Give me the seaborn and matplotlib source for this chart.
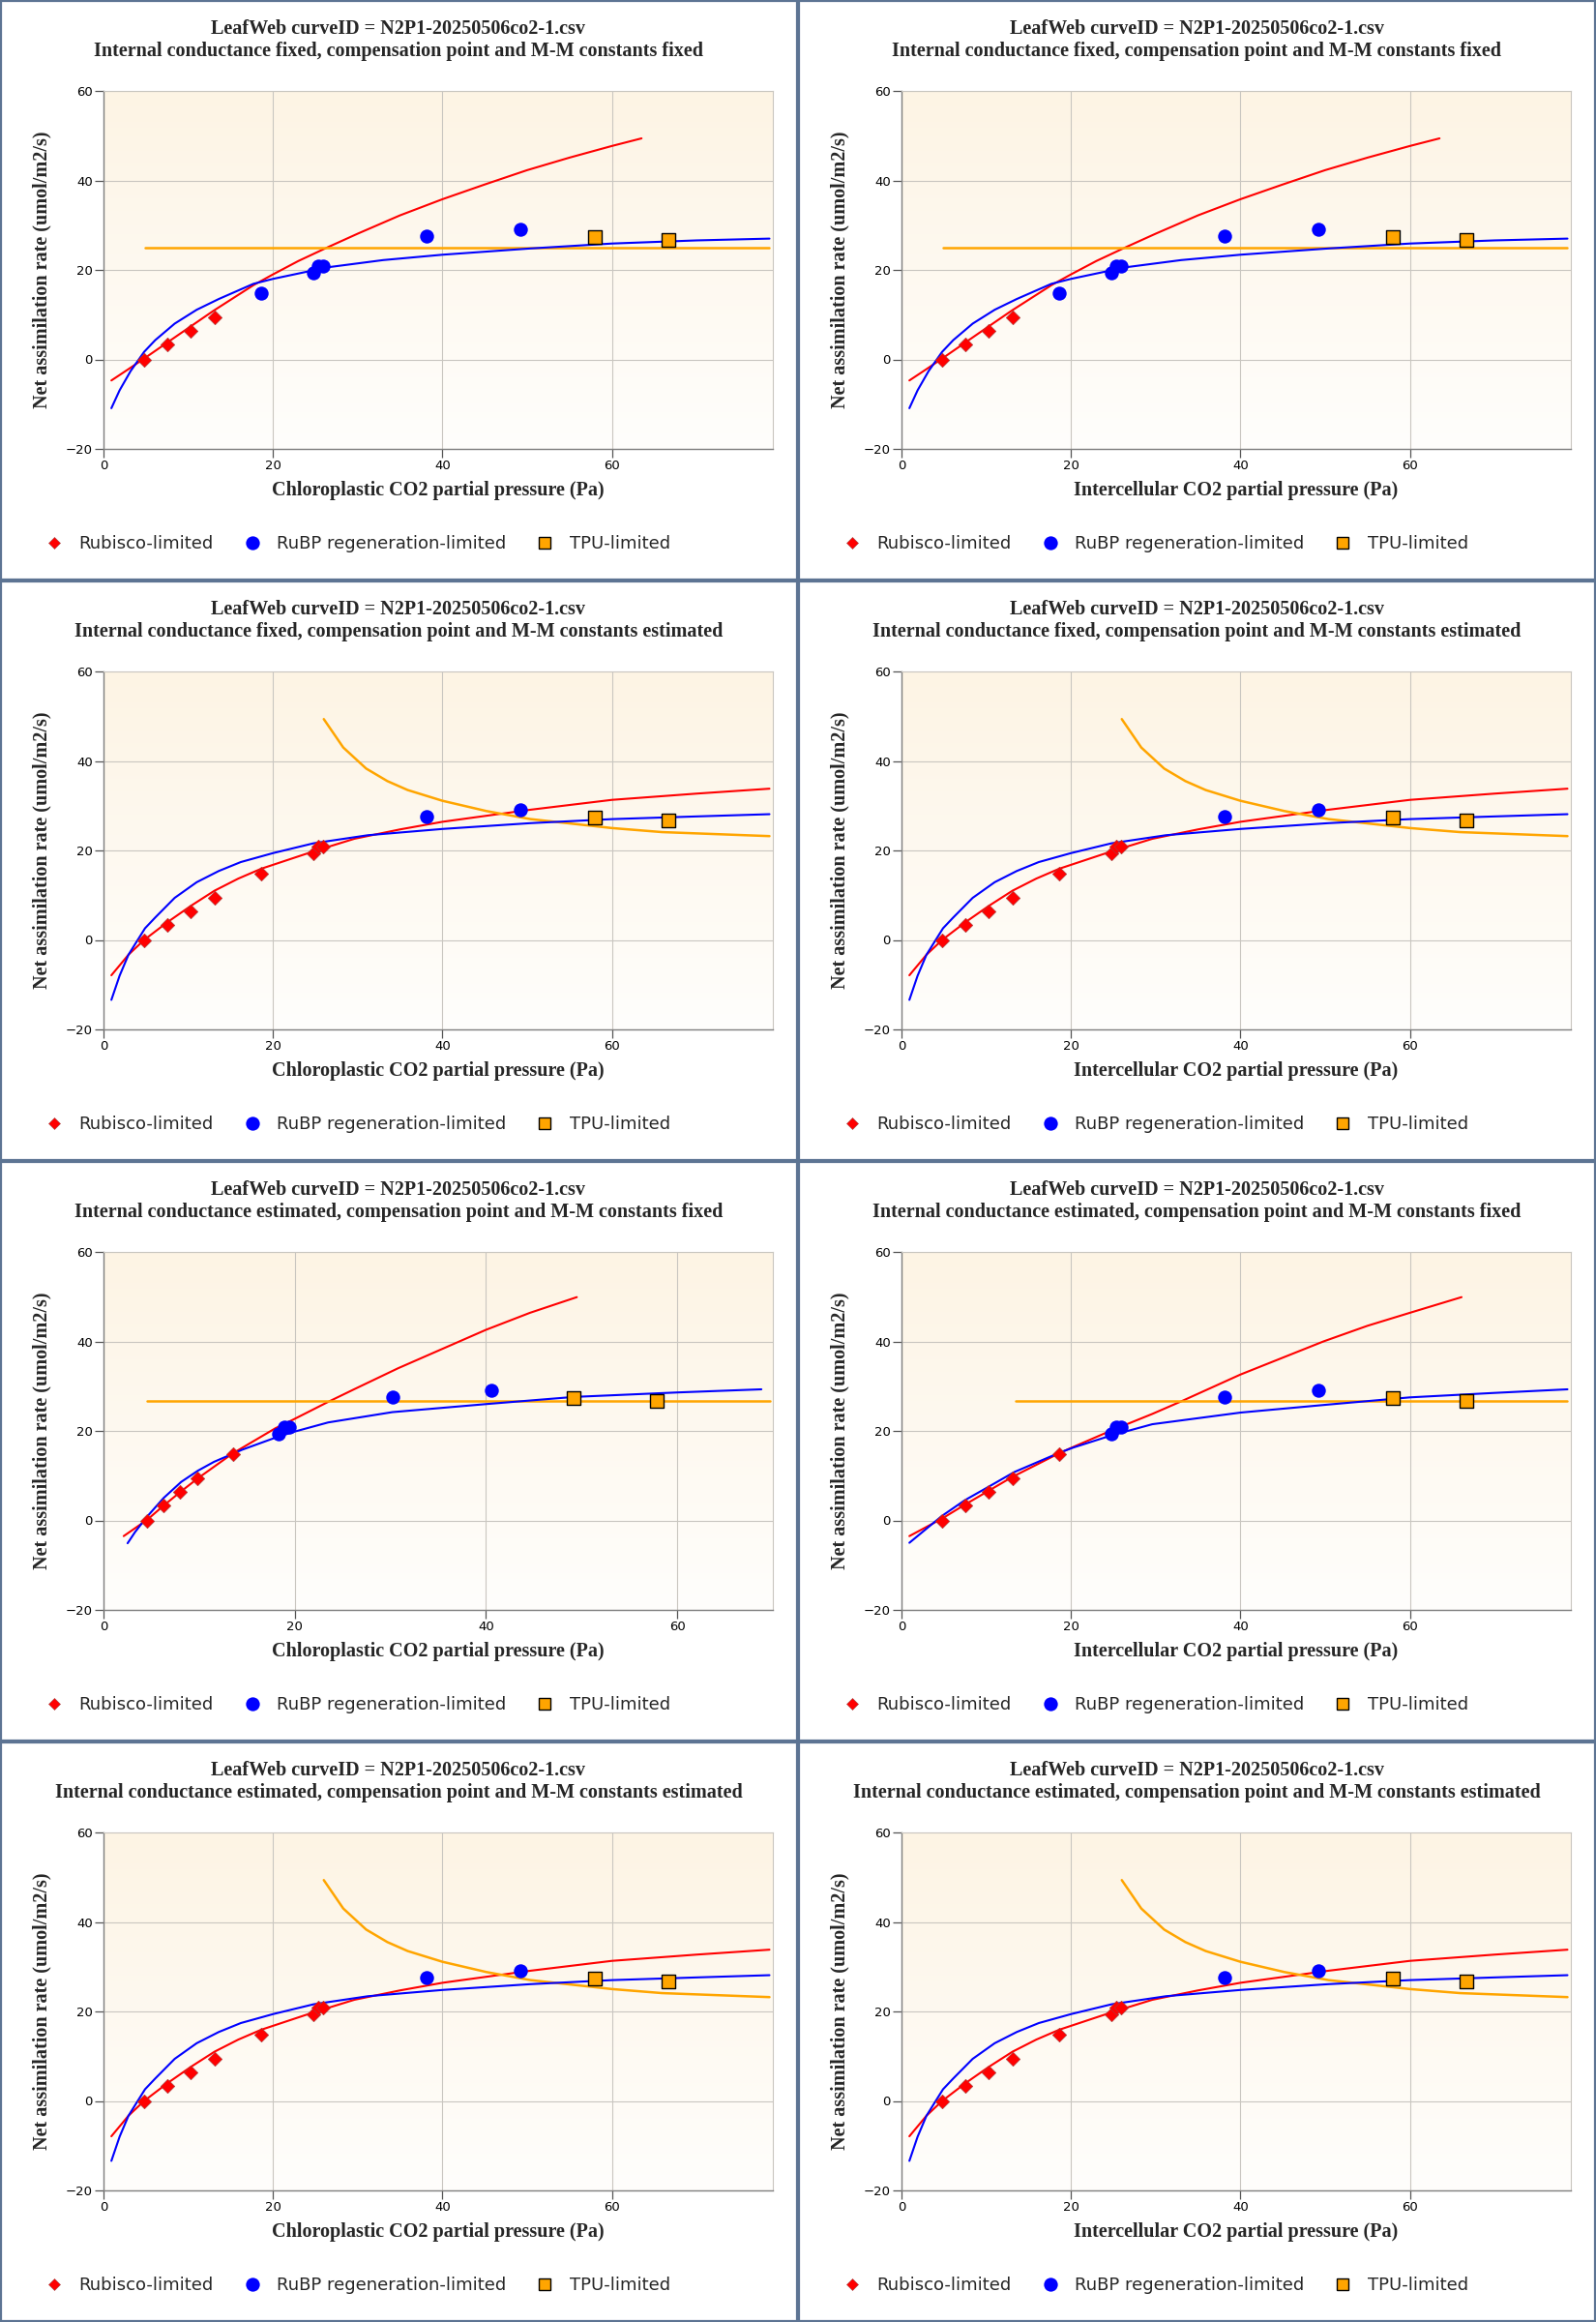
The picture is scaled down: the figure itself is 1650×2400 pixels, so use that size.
import matplotlib
matplotlib.use("Agg")
import matplotlib.pyplot as plt
from matplotlib.lines import Line2D
from matplotlib.patches import Rectangle
import seaborn as sns
import numpy as np
import pandas as pd

# observed points (Ci) and net assimilation
ci_obs = [4.8, 7.5, 10.3, 13.1, 18.6, 24.8, 25.4, 25.9, 38.1, 49.2, 58.0, 66.7]
a_obs = [0.0, 3.3, 6.4, 9.3, 14.9, 19.3, 20.8, 20.8, 27.5, 29.0, 27.3, 26.7]
# chloroplastic CO2 when internal conductance is estimated
cc_obs = [4.54, 6.28, 8.03, 9.86, 13.53, 18.35, 18.9, 19.45, 30.2, 40.55, 49.2, 57.9]

# limitation assigned to each point, per fit
lim_A = ["Rubisco"] * 4 + ["RuBP"] * 6 + ["TPU"] * 2
lim_B = ["Rubisco"] * 8 + ["RuBP"] * 2 + ["TPU"] * 2
lim_C = ["Rubisco"] * 5 + ["RuBP"] * 5 + ["TPU"] * 2

# fitted curves, fit A (gm fixed, constants fixed)
A_red_x = [0.93, 3.0, 4.8, 9.0, 13.0, 17.7, 20.0, 23.0, 26.5, 30.0, 35.0, 40.0, 45.0, 50.0, 55.0, 60.0, 63.5]
A_red_y = [-4.7, -2.1, 0.2, 5.7, 10.9, 16.6, 19.0, 22.0, 25.1, 28.1, 32.2, 35.8, 39.1, 42.3, 45.1, 47.7, 49.4]
A_blue_x = [0.93, 1.9, 3.2, 4.8, 6.1, 8.4, 11.0, 13.6, 17.7, 20.0, 26.5, 33.0, 40.0, 50.4, 60.0, 70.0, 78.6]
A_blue_y = [-10.9, -6.9, -2.6, 1.7, 4.3, 8.0, 11.1, 13.5, 16.9, 18.0, 20.6, 22.2, 23.4, 24.8, 25.9, 26.6, 27.0]
A_tpu_x = [4.87, 78.6]
A_tpu_y = [25.0, 25.0]

# fit B (gm fixed, constants estimated) - also used for fully estimated fit
B_red_x = [0.93, 2.95, 4.8, 7.5, 10.3, 13.1, 15.9, 18.6, 24.8, 29.6, 35.0, 40.0, 50.4, 60.0, 70.0, 78.6]
B_red_y = [-7.9, -3.3, 0.0, 3.9, 7.6, 11.0, 13.7, 15.9, 19.8, 22.6, 24.7, 26.4, 29.1, 31.3, 32.7, 33.8]
B_blue_x = [0.93, 1.9, 2.95, 4.9, 6.1, 8.4, 11.0, 13.6, 16.2, 20.0, 24.8, 31.2, 40.0, 50.4, 60.0, 70.0, 78.6]
B_blue_y = [-13.4, -8.0, -3.3, 2.6, 5.0, 9.4, 12.9, 15.4, 17.4, 19.4, 21.6, 23.4, 24.8, 26.1, 27.0, 27.6, 28.1]
B_tpu_x = [26.0, 28.3, 31.0, 33.5, 35.9, 40.0, 45.2, 50.4, 60.0, 65.9, 78.6]
B_tpu_y = [49.35, 43.0, 38.3, 35.5, 33.5, 31.1, 28.8, 27.0, 25.0, 24.1, 23.2]

# fit C (gm estimated, constants fixed), chloroplastic
C_red_x = [2.11, 4.54, 6.28, 8.0, 9.86, 13.53, 17.98, 19.9, 23.5, 26.2, 30.8, 35.4, 40.0, 44.6, 49.5]
C_red_y = [-3.5, 0.1, 3.3, 6.3, 9.4, 15.0, 20.6, 22.6, 26.5, 29.3, 34.0, 38.3, 42.6, 46.4, 49.9]
C_blue_x = [2.52, 3.3, 4.54, 6.28, 8.12, 9.86, 11.56, 13.53, 14.5, 17.98, 19.9, 23.5, 30.2, 40.0, 49.2, 60.0, 68.8]
C_blue_y = [-5.1, -2.6, 0.8, 5.0, 8.6, 11.1, 13.1, 14.9, 15.8, 18.5, 19.8, 21.9, 24.2, 26.0, 27.6, 28.6, 29.3]
C_tpu_x = [4.54, 69.7]
C_tpu_y = [26.7, 26.7]

# fit D (gm estimated, constants fixed), intercellular
D_red_x = [0.93, 4.77, 7.46, 10.26, 13.06, 18.6, 20.0, 24.77, 29.6, 33.0, 40.0, 49.8, 55.0, 60.0, 66.1]
D_red_y = [-3.5, 0.4, 3.5, 6.6, 9.7, 15.0, 16.2, 20.1, 23.8, 26.6, 32.6, 40.0, 43.5, 46.4, 49.9]
D_blue_x = [0.93, 4.77, 7.46, 10.26, 13.3, 18.6, 20.3, 24.77, 29.6, 40.0, 50.4, 60.0, 70.0, 78.6]
D_blue_y = [-5.0, 1.0, 4.5, 7.5, 10.8, 15.1, 16.3, 19.0, 21.5, 24.1, 25.9, 27.5, 28.5, 29.3]
D_tpu_x = [13.47, 78.6]
D_tpu_y = [26.7, 26.7]

title1 = "LeafWeb curveID = N2P1-20250506co2-1.csv"
subtitles = [
    "Internal conductance fixed, compensation point and M-M constants fixed",
    "Internal conductance fixed, compensation point and M-M constants estimated",
    "Internal conductance estimated, compensation point and M-M constants fixed",
    "Internal conductance estimated, compensation point and M-M constants estimated",
]
xlabels = ["Chloroplastic CO2 partial pressure (Pa)", "Intercellular CO2 partial pressure (Pa)"]
ylabel = "Net assimilation rate (umol/m2/s)"
legend_labels = ["Rubisco-limited", "RuBP regeneration-limited", "TPU-limited"]

fits = {
    "A": dict(x=ci_obs, lim=lim_A, red=(A_red_x, A_red_y), blue=(A_blue_x, A_blue_y), tpu=(A_tpu_x, A_tpu_y), xmax=79),
    "B": dict(x=ci_obs, lim=lim_B, red=(B_red_x, B_red_y), blue=(B_blue_x, B_blue_y), tpu=(B_tpu_x, B_tpu_y), xmax=79),
    "C": dict(x=cc_obs, lim=lim_C, red=(C_red_x, C_red_y), blue=(C_blue_x, C_blue_y), tpu=(C_tpu_x, C_tpu_y), xmax=70),
    "D": dict(x=ci_obs, lim=lim_C, red=(D_red_x, D_red_y), blue=(D_blue_x, D_blue_y), tpu=(D_tpu_x, D_tpu_y), xmax=79),
}
# (row, col) -> fit
layout = [["A", "A"], ["B", "B"], ["C", "D"], ["B", "B"]]

sns.set_style("white")
serif = ["Liberation Serif", "DejaVu Serif"]
sans = ["DejaVu Sans"]

W, H = 1650, 2400
PW, PH = 825, 600
fig = plt.figure(figsize=(W / 100, H / 100), dpi=100)

red, blue, orange = "#ff0000", "#0000ff", "#ffa500"
border = "#5d7493"
grad = np.linspace(0, 1, 256).reshape(-1, 1)
bg_cmap = matplotlib.colors.LinearSegmentedColormap.from_list("bg", ["#fdf4e4", "#fffefc"])


def fx(px):
    return px / W


def fy(py):
    return 1 - py / H


for r in range(4):
    for c in range(2):
        f = fits[layout[r][c]]
        ox, oy = c * PW, r * PH

        # panel frame
        fig.patches.append(Rectangle((fx(ox + 1), fy(oy + PH - 1)), fx(PW - 2), PH / H - 2 / H,
                                     transform=fig.transFigure, fill=False,
                                     edgecolor=border, linewidth=1.6))

        ax = fig.add_axes([fx(ox + 107), fy(oy + 464), fx(692), 370 / H])
        ax.imshow(grad, extent=(0, 1, 0, 1), transform=ax.transAxes, aspect="auto",
                  cmap=bg_cmap, zorder=-2)

        # curves
        sns.lineplot(x=f["red"][0], y=f["red"][1], ax=ax, color=red, linewidth=1.5,
                     sort=False, estimator=None, zorder=3)
        sns.lineplot(x=f["tpu"][0], y=f["tpu"][1], ax=ax, color=orange, linewidth=1.8,
                     sort=False, estimator=None, zorder=3)
        sns.lineplot(x=f["blue"][0], y=f["blue"][1], ax=ax, color=blue, linewidth=1.5,
                     sort=False, estimator=None, zorder=3)

        df = pd.DataFrame({"x": f["x"], "y": a_obs, "lim": f["lim"]})
        d = df[df.lim == "Rubisco"]
        sns.scatterplot(x=d.x, y=d.y, ax=ax, marker="D", s=55, color=red,
                        edgecolor="#a04040", linewidth=0.4, zorder=4)
        d = df[df.lim == "RuBP"]
        sns.scatterplot(x=d.x, y=d.y, ax=ax, marker="o", s=108, color=blue,
                        edgecolor=blue, linewidth=0, zorder=4)
        d = df[df.lim == "TPU"]
        sns.scatterplot(x=d.x, y=d.y, ax=ax, marker="s", s=95, color=orange,
                        edgecolor="black", linewidth=1.0, zorder=4)

        ax.set_xlim(0, f["xmax"])
        ax.set_ylim(-20, 60)
        ax.set_xticks([0, 20, 40, 60])
        ax.set_yticks([-20, 0, 20, 40, 60])
        ax.set_xlabel("")
        ax.set_ylabel("")
        ax.set_axisbelow(True)
        ax.grid(True, color="#c9c6c0", linewidth=0.8)
        for s in ["left", "bottom"]:
            ax.spines[s].set_color("#7f7f7f")
            ax.spines[s].set_linewidth(1.0)
        for s in ["top", "right"]:
            ax.spines[s].set_color("#c9c6c0")
            ax.spines[s].set_linewidth(0.8)
        ax.tick_params(axis="both", direction="out", length=6.5, width=0.9, color="#555555",
                       pad=1.5, labelsize=9.5, labelcolor="black", left=True, bottom=True)
        for lab in ax.get_xticklabels() + ax.get_yticklabels():
            lab.set_family(sans)

        # titles and axis labels
        cx = ox + 412
        fig.text(fx(cx), fy(oy + 30), title1, ha="center", va="center",
                 family=serif, fontweight="bold", fontsize=14.5)
        fig.text(fx(cx), fy(oy + 53), subtitles[r], ha="center", va="center",
                 family=serif, fontweight="bold", fontsize=14.5)
        fig.text(fx(ox + 453), fy(oy + 507), xlabels[c], ha="center", va="center",
                 family=serif, fontweight="bold", fontsize=14.5)
        fig.text(fx(ox + 43), fy(oy + 279), ylabel, ha="center", va="center",
                 rotation=90, family=serif, fontweight="bold", fontsize=14.5)

        handles = [
            Line2D([], [], linestyle="none", marker="D", markersize=6.0, color=red,
                   markeredgecolor="#a04040", markeredgewidth=0.4),
            Line2D([], [], linestyle="none", marker="o", markersize=10.3, color=blue,
                   markeredgewidth=0),
            Line2D([], [], linestyle="none", marker="s", markersize=9.0, color=orange,
                   markeredgecolor="black", markeredgewidth=1.0),
        ]
        leg = ax.legend(handles, legend_labels, loc="center left",
                        bbox_to_anchor=(fx(ox + 46.5), fy(oy + 562)),
                        bbox_transform=fig.transFigure, frameon=False, ncol=3,
                        borderpad=0, borderaxespad=0, handlelength=1.0,
                        handletextpad=0.92, columnspacing=1.72,
                        prop={"family": sans, "size": 13.0})

fig.savefig("out.png", dpi=100)
